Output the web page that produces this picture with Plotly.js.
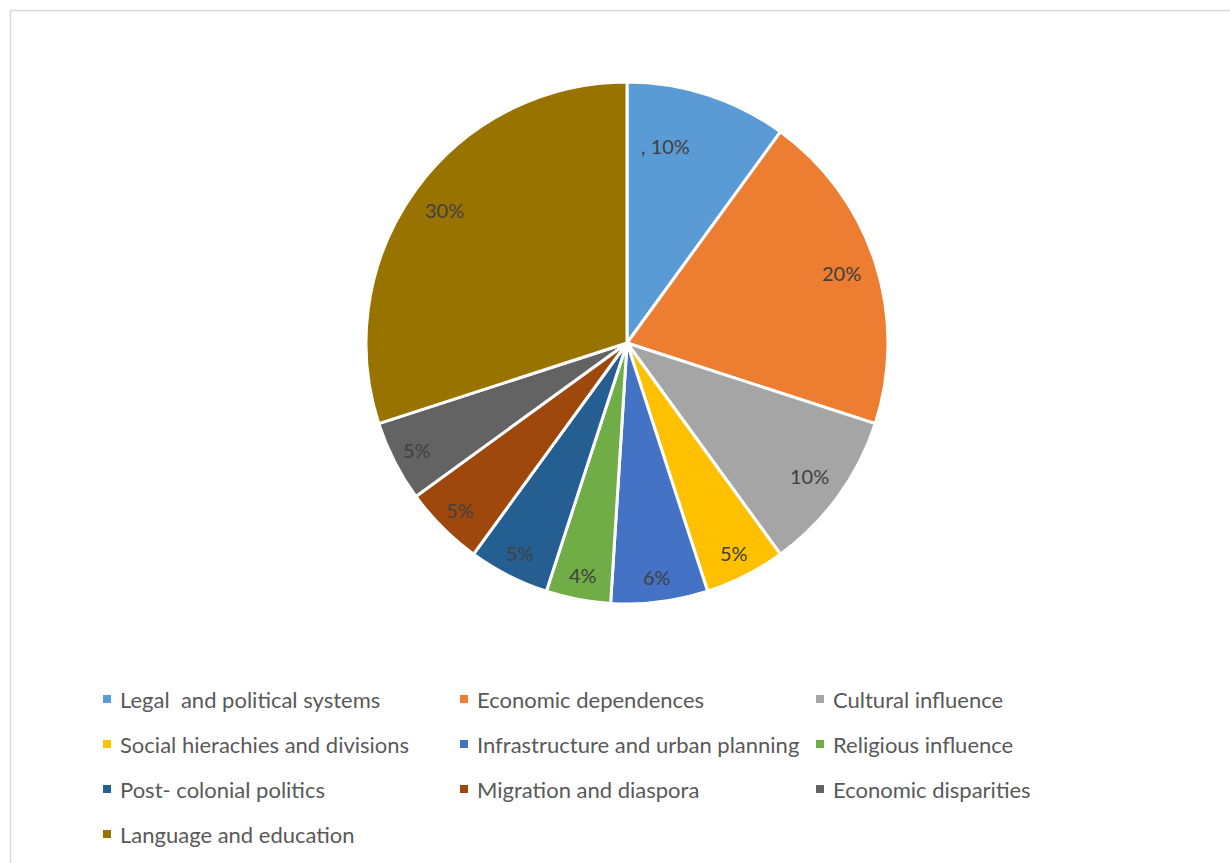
<!DOCTYPE html>
<html>
<head>
<meta charset="utf-8">
<script src="https://cdn.plot.ly/plotly-3.0.1.min.js"></script>
<style>
  html, body { margin: 0; padding: 0; background: #fff; }
  #chart { width: 1230px; height: 863px; }
</style>
</head>
<body>
<div id="chart"></div>
<script>
// ---- data ----
const categories = [
  "Legal \u00a0and political systems",
  "Economic dependences",
  "Cultural influence",
  "Social hierachies and divisions",
  "Infrastructure and urban planning",
  "Religious influence",
  "Post- colonial politics",
  "Migration and diaspora",
  "Economic disparities",
  "Language and education"
];
const values = [10, 20, 10, 5, 6, 4, 5, 5, 5, 30];
const sliceLabels = [", 10%", "20%", "10%", "5%", "6%", "4%", "5%", "5%", "5%", "30%"];
const colors = ["#5B9BD5", "#ED7D31", "#A5A5A5", "#FFC000", "#4472C4",
                "#70AD47", "#255E91", "#9E480E", "#636363", "#997300"];

// ---- layout geometry ----
const W = 1230, H = 863;
const cx = 627, cy = 343, R = 261;
const fontFam = "Lato, 'Open Sans', sans-serif";

const trace = {
  type: "pie",
  labels: categories,
  values: values,
  sort: false,
  direction: "clockwise",
  rotation: 0,
  textinfo: "none",
  textposition: "none",
  marker: { colors: colors, line: { color: "#ffffff", width: 3 } },
  domain: { x: [(cx - R) / W, (cx + R) / W], y: [1 - (cy + R) / H, 1 - (cy - R) / H] },
  hoverinfo: "label+percent",
  showlegend: false
};

const annotations = [];
const shapes = [];

// slice labels placed near the outer edge (best-fit style)
const total = values.reduce((a, b) => a + b, 0);
let cum = 0;
values.forEach((v, i) => {
  let mid = (cum + v / 2) / total * 2 * Math.PI;
  cum += v;
  let rf = v >= 10 ? 0.865 : 0.905;
  if (i === 0) { rf = 0.77; mid -= 7 * Math.PI / 180; }
  const px = cx + rf * R * Math.sin(mid);
  const py = cy - rf * R * Math.cos(mid);
  annotations.push({
    xref: "paper", yref: "paper", x: px / W, y: 1 - py / H,
    xanchor: "center", yanchor: "middle", showarrow: false,
    text: sliceLabels[i],
    font: { family: fontFam, size: 20, color: "#404040" }
  });
});

// legend: 3 columns, row-major
const colX = [107, 464, 820];
const rowY0 = 699, rowStep = 45, mk = 8;
categories.forEach((c, i) => {
  const col = i % 3, row = Math.floor(i / 3);
  const mx = colX[col], my = rowY0 + row * rowStep;
  shapes.push({
    type: "rect", xref: "paper", yref: "paper",
    x0: (mx - mk / 2) / W, x1: (mx + mk / 2) / W,
    y0: 1 - (my + mk / 2) / H, y1: 1 - (my - mk / 2) / H,
    fillcolor: colors[i], line: { width: 0 }
  });
  annotations.push({
    xref: "paper", yref: "paper", x: (mx + 11) / W, y: 1 - my / H,
    xanchor: "left", yanchor: "middle", showarrow: false,
    text: c,
    font: { family: fontFam, size: 22, color: "#595959" }
  });
});

// chart-area border (top and left visible)
shapes.push({ type: "line", xref: "paper", yref: "paper", x0: 10.5 / W, x1: 1.01, y0: 1 - 10.5 / H, y1: 1 - 10.5 / H, line: { color: "#d9d9d9", width: 1.5 } });
shapes.push({ type: "line", xref: "paper", yref: "paper", x0: 10.5 / W, x1: 10.5 / W, y0: 1 - 10.5 / H, y1: -0.01, line: { color: "#d9d9d9", width: 1.5 } });

const layout = {
  width: W, height: H,
  margin: { l: 0, r: 0, t: 0, b: 0 },
  paper_bgcolor: "#ffffff",
  showlegend: false,
  annotations: annotations,
  shapes: shapes,
  font: { family: fontFam }
};

Plotly.newPlot("chart", [trace], layout, { displayModeBar: false });
</script>
</body>
</html>
